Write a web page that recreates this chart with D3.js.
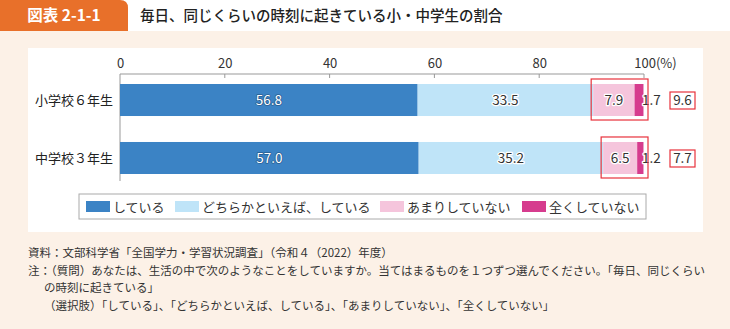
<!DOCTYPE html>
<html><head><meta charset="utf-8">
<script src="https://cdn.jsdelivr.net/npm/d3@7"></script>
<style>
html,body{margin:0;padding:0;background:#fcf1e7;}
svg{display:block;font-family:"Noto Sans CJK JP","Noto Sans",sans-serif;}
</style></head>
<body>
<svg id="c" width="730" height="329"></svg>
<script>
const categories = ["小学校６年生", "中学校３年生"];
const seriesNames = ["している", "どちらかといえば、している", "あまりしていない", "全くしていない"];
const v_yes = [56.8, 57.0];
const v_rather = [33.5, 35.2];
const v_notmuch = [7.9, 6.5];
const v_never = [1.7, 1.2];
const negTotals = [9.6, 7.7];
const ticks = [0, 20, 40, 60, 80, 100];
const colors = ["#3b83c5", "#bfe4f8", "#f5c5dc", "#d63c8e"];

const svg = d3.select("#c");
// header
svg.append("rect").attr("x",0).attr("y",0).attr("width",730).attr("height",31).attr("fill","#ffffff");
svg.append("path").attr("d","M0,0 H120 Q128,0 128,8 V31 H0 Z").attr("fill","#e8702a");
svg.append("text").attr("x",64).attr("y",21).attr("text-anchor","middle").attr("fill","#fff")
  .attr("font-size",15.5).attr("font-weight","bold").text("図表 2-1-1");
svg.append("text").attr("x",140).attr("y",21).attr("fill","#222").attr("font-size",14.5)
  .attr("font-weight",500).text("毎日、同じくらいの時刻に起きている小・中学生の割合");
// panel
svg.append("rect").attr("x",28).attr("y",48).attr("width",675).attr("height",184).attr("fill","#fff");

const x = d3.scaleLinear().domain([0,100]).range([120,644]);
const y = d3.scaleBand().domain(categories).range([84,174]).paddingInner(0.448).paddingOuter(0);

// axis
const ax = d3.axisTop(x).tickValues(ticks).tickSize(0).tickFormat(d => d===100 ? "100(%)" : d);
const g = svg.append("g").attr("transform","translate(0,74)").call(ax);
g.select(".domain").remove();
g.selectAll("text").attr("font-size",13).attr("fill","#333").attr("dy","-3")
  .attr("font-family","'Noto Sans CJK JP',sans-serif");
g.selectAll(".tick").filter(d=>d===100).select("text").attr("dx","11");
svg.append("line").attr("x1",x(0)).attr("x2",x(100)).attr("y1",74).attr("y2",74).attr("stroke","#999");
ticks.slice(1).forEach(t=>{
  svg.append("line").attr("x1",x(t)).attr("x2",x(t)).attr("y1",74).attr("y2",78).attr("stroke","#999");
});
svg.append("line").attr("x1",x(0)).attr("x2",x(0)).attr("y1",74).attr("y2",181).attr("stroke","#999");

// category labels
categories.forEach(c=>{
  svg.append("text").attr("x",113).attr("y",y(c)+y.bandwidth()/2+5).attr("text-anchor","end")
    .attr("font-size",13).attr("fill","#222").text(c);
});

const series = [v_yes, v_rather, v_notmuch, v_never];
categories.forEach((c,i)=>{
  let cum = 0;
  series.forEach((arr,s)=>{
    const v = arr[i];
    svg.append("rect").attr("x",x(cum)).attr("y",y(c)).attr("width",x(cum+v)-x(cum))
      .attr("height",y.bandwidth()).attr("fill",colors[s]);
    const cx = s===3 ? x(cum+v)+8 : (x(cum)+x(cum+v))/2;
    const t = svg.append("text").attr("x",cx).attr("y",y(c)+y.bandwidth()/2+5)
      .attr("text-anchor","middle").attr("font-size",13.5).text(v.toFixed(1))
      .attr("paint-order","stroke").attr("stroke-linejoin","round");
    if (s===0) t.attr("fill","#fff").attr("stroke","#2a5f92").attr("stroke-width",1.5);
    else t.attr("fill","#333").attr("stroke","#fff").attr("stroke-width",2.5);
    cum += v;
  });
  // red box around negative answers
  const bx0 = x(v_yes[i]+v_rather[i]) - 2;
  svg.append("rect").attr("x",bx0).attr("y",y(c)-5).attr("width",x(100)+4-bx0)
    .attr("height",y.bandwidth()+9).attr("fill","none").attr("stroke","#e8323c").attr("stroke-width",1.2);
  // total box
  const cy = y(c)+y.bandwidth()/2;
  svg.append("rect").attr("x",670).attr("y",cy-8).attr("width",25).attr("height",17)
    .attr("fill","#fff").attr("stroke","#e8323c").attr("stroke-width",1.2);
  svg.append("text").attr("x",682.5).attr("y",cy+5).attr("text-anchor","middle")
    .attr("font-size",13.5).attr("fill","#333").text(negTotals[i].toFixed(1));
});

// legend
svg.append("rect").attr("x",79).attr("y",194).attr("width",567).attr("height",25)
  .attr("fill","#fff").attr("stroke","#aaa").attr("stroke-width",1);
const legX = [86, 175, 380, 522];
seriesNames.forEach((n,i)=>{
  svg.append("rect").attr("x",legX[i]).attr("y",201).attr("width",24).attr("height",11).attr("fill",colors[i]);
  svg.append("text").attr("x",legX[i]+27).attr("y",211.5).attr("font-size",13).attr("fill","#333").text(n);
});

// notes
const notes = [
  [28, 257, "資料：文部科学省「全国学力・学習状況調査」（令和４（2022）年度）"],
  [28, 275, "注：（質問）あなたは、生活の中で次のようなことをしていますか。当てはまるものを１つずつ選んでください。「毎日、同じくらい"],
  [44, 292, "の時刻に起きている」"],
  [44, 310, "（選択肢）「している」、「どちらかといえば、している」、「あまりしていない」、「全くしていない」"]
];
notes.forEach(([nx,ny,t])=>{
  svg.append("text").attr("x",nx).attr("y",ny).attr("font-size",11.5).attr("fill","#333").text(t);
});
</script>
</body></html>
